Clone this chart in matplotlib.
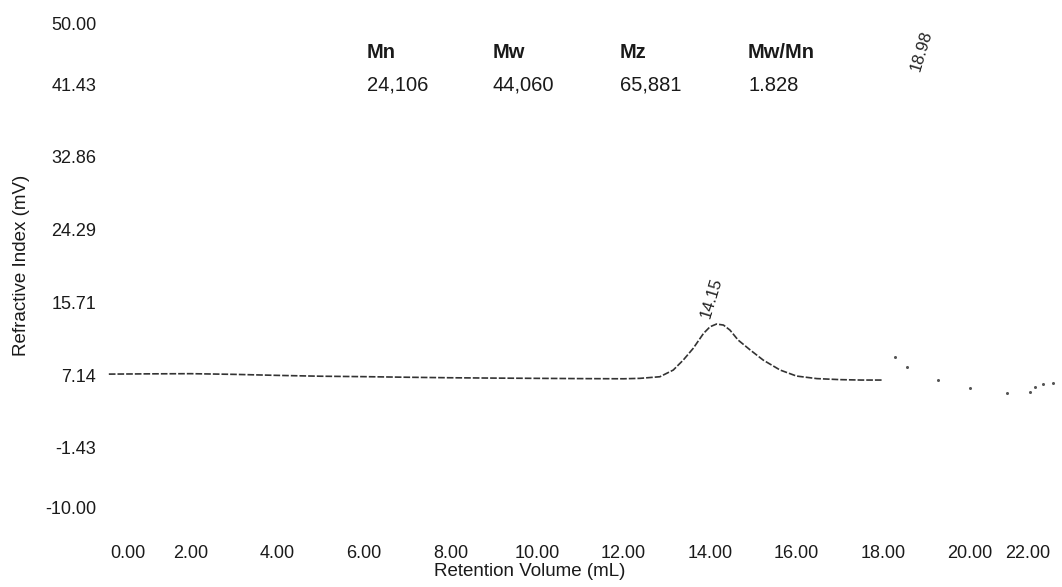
import matplotlib.pyplot as plt
import matplotlib.transforms as mtransforms

plt.rcParams['font.family'] = ['Liberation Sans', 'DejaVu Sans']

# RI trace, retention volume (mL) vs detector signal (mV)
vol = [0.10, 1.0, 2.0, 3.0, 4.0, 5.0, 6.0, 7.0, 8.0, 9.0, 10.0, 11.0, 12.0,
       12.38, 12.84, 13.15, 13.38, 13.61, 13.85, 14.00, 14.15, 14.31, 14.46,
       14.65, 14.93, 15.23, 15.62, 16.00, 16.47, 17.0, 17.5, 18.0]
signal = [7.25, 7.28, 7.30, 7.22, 7.10, 7.00, 6.95, 6.88, 6.82, 6.78, 6.75,
          6.72, 6.70, 6.75, 6.94, 7.73, 8.90, 10.28, 12.05, 12.83, 13.15,
          13.03, 12.44, 11.26, 10.09, 8.90, 7.73, 7.02, 6.72, 6.60, 6.55, 6.55]

# broken tail of the trace past 18 mL
tail_vol = [18.28, 18.55, 19.28, 20.01, 20.86, 21.40, 21.51, 21.70, 21.94]
tail_signal = [9.30, 8.12, 6.55, 5.57, 4.98, 5.17, 5.76, 6.08, 6.23]

# peak labels
peaks = [14.15, 18.98]
peak_label_pos = [(14.04, 16.2), (18.90, 45.4)]

# molecular weight summary
mw_names = ['Mn', 'Mw', 'Mz', 'Mw/Mn']
mw_values = ['24,106', '44,060', '65,881', '1.828']
mw_x = [6.07, 8.98, 11.92, 14.88]

xticks = [0, 2, 4, 6, 8, 10, 12, 14, 16, 18, 20, 22]
yticks = [50.00, 41.43, 32.86, 24.29, 15.71, 7.14, -1.43, -10.00]

fig = plt.figure(figsize=(10.62, 5.87), dpi=100)
ax = fig.add_axes([0.0984, 0.1133, 0.896, 0.8674])

ax.plot(vol, signal, color='#333333', lw=1.2, ls=(0, (4, 1.2)))
ax.plot(tail_vol, tail_signal, ls='none', marker='o', ms=2.2,
        color='#555555', mec='none')

for p, (px, py) in zip(peaks, peak_label_pos):
    ax.text(px, py, '%.2f' % p, rotation=73, ha='center', va='center',
            fontsize=12, color='#222222')

for name, val, x in zip(mw_names, mw_values, mw_x):
    ax.text(x, 45.2, name, ha='left', va='center', fontsize=14.5,
            fontweight='bold', color='#1a1a1a')
    ax.text(x, 41.3, val, ha='left', va='center', fontsize=14.5,
            color='#1a1a1a')

ax.set_xlim(0, 22)
ax.set_ylim(-10, 50)
ax.set_xticks(xticks)
ax.set_xticklabels(['%.2f' % t for t in xticks])
ax.set_yticks(yticks)
ax.set_yticklabels(['%.2f' % t for t in yticks])
ax.tick_params(length=0, labelsize=13, colors='#1a1a1a')
ax.tick_params(axis='x', pad=18)
ax.tick_params(axis='y', pad=6)
for s in ax.spines.values():
    s.set_visible(False)

# end labels sit inside the axis range
fig.canvas.draw()
px = 1 / fig.dpi
xl = ax.get_xticklabels()
yl = ax.get_yticklabels()
xl[0].set_transform(xl[0].get_transform() + mtransforms.ScaledTranslation(23 * px, 0, fig.dpi_scale_trans))
xl[-1].set_transform(xl[-1].get_transform() + mtransforms.ScaledTranslation(-28 * px, 0, fig.dpi_scale_trans))
yl[0].set_transform(yl[0].get_transform() + mtransforms.ScaledTranslation(0, -12.5 * px, fig.dpi_scale_trans))
yl[-1].set_transform(yl[-1].get_transform() + mtransforms.ScaledTranslation(0, 12.5 * px, fig.dpi_scale_trans))

fig.text(0.499, 0.026, 'Retention Volume (mL)', ha='center', va='center',
         fontsize=13.5, color='#1a1a1a')
fig.text(0.0198, 0.5486, 'Refractive Index (mV)', ha='center', va='center',
         rotation=90, fontsize=13.5, color='#1a1a1a')

fig.savefig('out.png', dpi=100, facecolor='white')
